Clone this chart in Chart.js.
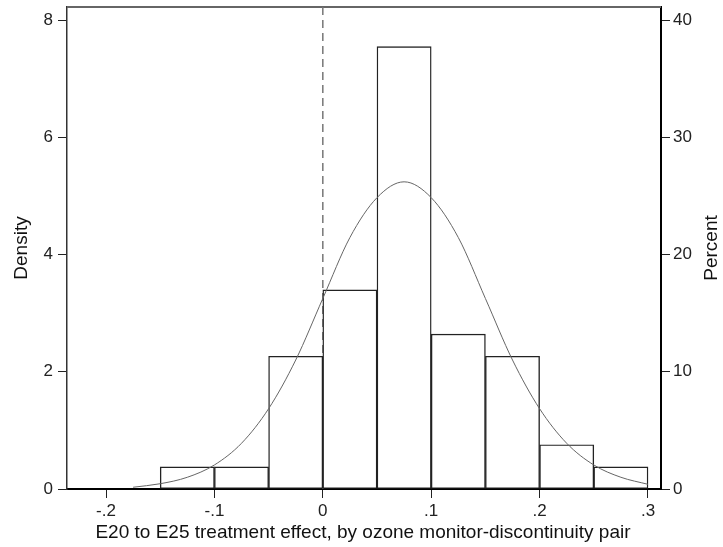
<!DOCTYPE html>
<html>
<head>
<meta charset="utf-8">
<script src="https://cdn.jsdelivr.net/npm/chart.js@4"></script>
<style>
  html, body { margin: 0; padding: 0; background: #fff; }
  canvas { display: block; }
</style>
</head>
<body>
<canvas id="histChart" width="723" height="547"></canvas>
<script>
// Histogram bins (left edge, width .05) and densities
const binLeft = [-0.15, -0.10, -0.05, 0.00, 0.05, 0.10, 0.15, 0.20, 0.25];
const binWidth = 0.05;
const density = [0.377, 0.377, 2.264, 3.396, 7.547, 2.642, 2.264, 0.755, 0.377];

// Normal density overlay
const curveX = [-0.175, -0.15, -0.125, -0.1, -0.075, -0.05, -0.025, 0, 0.025, 0.05,
                0.075, 0.1, 0.125, 0.15, 0.175, 0.2, 0.225, 0.25, 0.275, 0.3];
const curveY = [0.03, 0.09, 0.20, 0.41, 0.78, 1.37, 2.20, 3.25, 4.29, 4.97,
                5.24, 4.97, 4.29, 3.25, 2.20, 1.37, 0.78, 0.41, 0.20, 0.08];

// Axis ticks
const xTicks = [-0.2, -0.1, 0, 0.1, 0.2, 0.3];
const densityTicks = [0, 2, 4, 6, 8];
const percentTicks = [0, 10, 20, 30, 40];

// reference line at zero
const refLineX = 0;

const xMin = -0.236, xMax = 0.312;
const densityMax = 8.222;

const tickFont = { family: 'Liberation Sans, Arial, sans-serif', size: 17 };
const titleFont = '19px "Liberation Sans", Arial, sans-serif';

function fmtTick(v) {
    if (Math.abs(v) < 1e-9) return '0';
    return v.toFixed(1).replace(/^(-?)0\./, '$1.');
}

// vertical axes: no extra room for half labels
function fixVertical(width) {
    return (s) => {
        s.width = width;
        s.paddingTop = 0;
        s.paddingBottom = 0;
    };
}

const framePlugin = {
    id: 'frame',
    beforeDatasetsDraw(chart) {
        const { ctx, chartArea } = chart;
        ctx.save();
        ctx.strokeStyle = '#666';
        ctx.lineWidth = 2;
        ctx.beginPath();
        ctx.moveTo(chartArea.left, chartArea.top);
        ctx.lineTo(chartArea.right, chartArea.top);
        ctx.stroke();
        ctx.restore();
    },
    afterDraw(chart) {
        const { ctx, chartArea } = chart;
        const midY = (chartArea.top + chartArea.bottom) / 2;
        ctx.save();
        ctx.fillStyle = '#111';
        ctx.font = titleFont;
        ctx.textAlign = 'center';
        ctx.textBaseline = 'middle';
        ctx.fillText('E20 to E25 treatment effect, by ozone monitor-discontinuity pair', 363, 533);
        ctx.translate(22, midY);
        ctx.rotate(-Math.PI / 2);
        ctx.fillText('Density', 0, 0);
        ctx.restore();
        ctx.save();
        ctx.fillStyle = '#111';
        ctx.font = titleFont;
        ctx.textAlign = 'center';
        ctx.textBaseline = 'middle';
        ctx.translate(712, midY);
        ctx.rotate(-Math.PI / 2);
        ctx.fillText('Percent', 0, 0);
        ctx.restore();
    }
};

const ctx = document.getElementById('histChart').getContext('2d');
const histChart = new Chart(ctx, {
    data: {
        datasets: [{
            type: 'line',
            label: 'Normal density',
            data: curveX.map((x, i) => ({ x: x, y: curveY[i] })),
            borderColor: '#666',
            borderWidth: 1,
            pointRadius: 0,
            cubicInterpolationMode: 'monotone',
            fill: false,
            order: 0
        }, {
            type: 'line',
            label: 'Zero',
            data: [{ x: refLineX, y: densityMax }, { x: refLineX, y: 0 }],
            borderColor: '#777',
            borderWidth: 1.5,
            borderDash: [8, 5],
            pointRadius: 0,
            fill: false,
            order: 2
        }, {
            type: 'bar',
            label: 'Density',
            data: binLeft.map((l, i) => ({ x: l + binWidth / 2, y: density[i] })),
            backgroundColor: '#fff',
            borderColor: '#222',
            borderWidth: 1.4,
            borderSkipped: false,
            barPercentage: 1,
            categoryPercentage: 1,
            order: 1
        }]
    },
    options: {
        responsive: false,
        animation: false,
        layout: { padding: { top: 7, left: 0, right: 0, bottom: 0 } },
        plugins: {
            legend: { display: false },
            tooltip: { enabled: false }
        },
        scales: {
            x: {
                type: 'linear',
                offset: false,
                min: xMin,
                max: xMax,
                afterBuildTicks: (s) => { s.ticks = xTicks.map(v => ({ value: v })); },
                afterFit: (s) => { s.height = 58; s.paddingLeft = 0; s.paddingRight = 0; },
                grid: { offset: false, drawOnChartArea: false, drawTicks: true, tickLength: 9, color: '#222' },
                border: { display: true, color: '#000', width: 2 },
                ticks: { color: '#222', font: tickFont, padding: 3, maxRotation: 0, callback: fmtTick }
            },
            y: {
                position: 'left',
                min: 0,
                max: densityMax,
                afterBuildTicks: (s) => { s.ticks = densityTicks.map(v => ({ value: v })); },
                afterFit: fixVertical(67),
                grid: { drawOnChartArea: false, drawTicks: true, tickLength: 9, color: '#222' },
                border: { display: true, color: '#333', width: 1.5 },
                ticks: { color: '#222', font: tickFont, padding: 5 }
            },
            y2: {
                position: 'right',
                min: 0,
                max: densityMax * 100 * binWidth,
                afterBuildTicks: (s) => { s.ticks = percentTicks.map(v => ({ value: v })); },
                afterFit: fixVertical(62),
                grid: { drawOnChartArea: false, drawTicks: true, tickLength: 9, color: '#222' },
                border: { display: true, color: '#000', width: 2 },
                ticks: { color: '#222', font: tickFont, padding: 3 }
            }
        }
    },
    plugins: [framePlugin]
});
</script>
</body>
</html>
